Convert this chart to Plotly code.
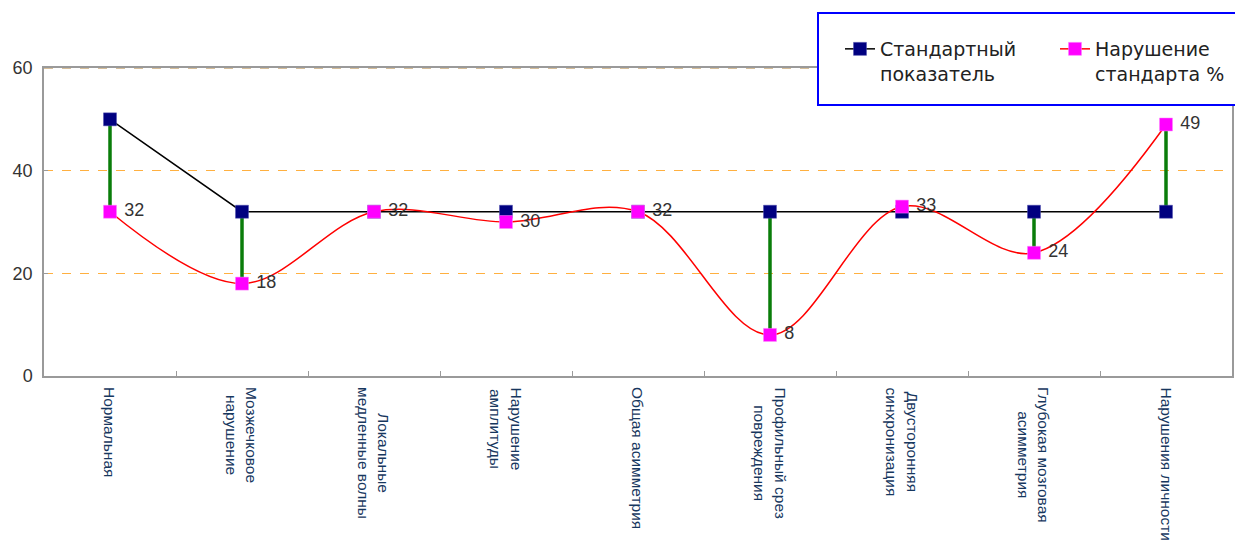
import plotly.graph_objects as go

categories = [
    "Нормальная",
    "Мозжечковое<br>нарушение",
    "Локальные<br>медленные волны",
    "Нарушение<br>амплитуды",
    "Общая асимметрия",
    "Профильный срез<br>повреждения",
    "Двусторонняя<br>синхронизация",
    "Глубокая мозговая<br>асимметрия",
    "Нарушения личности",
]
standard = [50, 32, 32, 32, 32, 32, 32, 32, 32]
violation = [32, 18, 32, 30, 32, 8, 33, 24, 49]
series_names = ["Стандартный<br>показатель", "Нарушение<br>стандарта %"]
y_ticks = [0, 20, 40, 60]

keys = [f"c{i}" for i in range(len(categories))]

fig = go.Figure()

# high-low connector lines
for k, s, v in zip(keys, standard, violation):
    fig.add_trace(go.Scatter(
        x=[k, k], y=[s, v], mode="lines",
        line=dict(color="#0A7D0A", width=3.5),
        showlegend=False, hoverinfo="skip"))

fig.add_trace(go.Scatter(
    x=keys, y=standard, mode="lines+markers", name=series_names[0],
    line=dict(color="#000000", width=1.5),
    marker=dict(symbol="square", size=13, color="#000080",
                line=dict(color="#5050B0", width=0.5)),
))
fig.add_trace(go.Scatter(
    x=keys, y=violation, mode="lines+markers+text", name=series_names[1],
    line=dict(color="#FF0000", width=1.5, shape="spline", smoothing=1),
    marker=dict(symbol="square", size=13, color="#FF00FF",
                line=dict(color="#FF80FF", width=0.5)),
    text=["\u00a0" + str(v) for v in violation], textposition="middle right",
    textfont=dict(family="Liberation Sans", size=18, color="#333333"),
))

# rotated category labels
for k, c in zip(keys, categories):
    fig.add_annotation(
        x=k, xref="x", y=0, yref="paper", yanchor="top", xanchor="center",
        yshift=-9, text=c, textangle=90, align="center", showarrow=False,
        font=dict(family="Liberation Sans", size=15.5, color="#17375E"))

# legend box
fig.add_shape(type="rect", xref="paper", yref="paper",
              x0=(818 - 44) / 1188, x1=(1250 - 44) / 1188,
              y0=(376 - 105) / 308, y1=(376 - 13) / 308,
              line=dict(color="#0000FF", width=2), fillcolor="#FFFFFF",
              layer="above")
# tan dashed top gridline over the frame
fig.add_shape(type="line", xref="paper", yref="y",
              x0=0, x1=(818 - 44) / 1188, y0=60, y1=60,
              line=dict(color="#C8A878", width=1.5, dash="dash"),
              layer="above")

fig.update_layout(
    width=1235, height=540,
    margin=dict(l=44, r=3, t=68, b=164, autoexpand=False),
    plot_bgcolor="#FFFFFF", paper_bgcolor="#FFFFFF",
    font=dict(family="Liberation Sans", size=18, color="#333333"),
    showlegend=True,
    legend=dict(
        orientation="h", xref="container", yref="container",
        x=840 / 1235, y=1 - 30 / 540, xanchor="left", yanchor="top",
        bgcolor="rgba(0,0,0,0)", borderwidth=0, valign="top",
        font=dict(family="DejaVu Sans", size=19, color="#222222"),
        entrywidth=170, entrywidthmode="pixels",
    ),
    xaxis=dict(
        type="category", categoryorder="array", categoryarray=keys,
        range=[-0.5, len(keys) - 0.5],
        showticklabels=False, showgrid=False, zeroline=False,
        showline=True, linecolor="#9A9A9A", linewidth=1.5, mirror=True,
        ticks="inside", tickson="boundaries", ticklen=5, tickcolor="#9A9A9A",
    ),
    yaxis=dict(
        range=[0, 60], tickvals=y_ticks, ticktext=[str(t) for t in y_ticks],
        showgrid=True, gridcolor="#FFB040", griddash="dash", gridwidth=1,
        zeroline=False, showline=True, linecolor="#9A9A9A", linewidth=1.5,
        mirror=True, ticks="inside", ticklen=4, tickcolor="#9A9A9A",
        tickfont=dict(family="Liberation Sans", size=18, color="#333333"),
        ticklabelstandoff=6,
    ),
)

fig.write_html("out.html")
